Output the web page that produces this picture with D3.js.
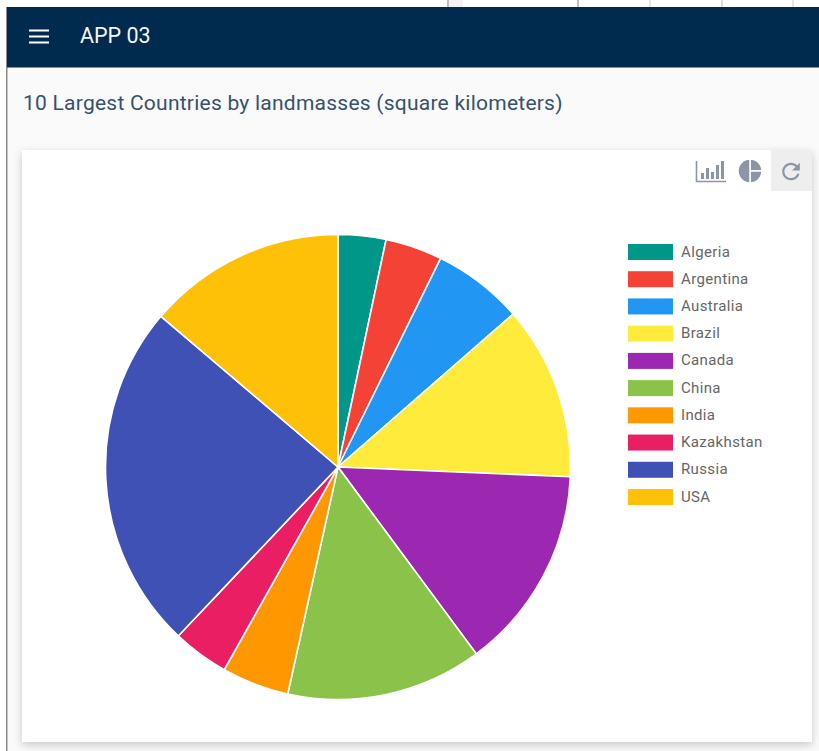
<!DOCTYPE html>
<html>
<head>
<meta charset="utf-8">
<script src="https://cdnjs.cloudflare.com/ajax/libs/d3/7.8.5/d3.min.js"></script>
<style>
  html, body { margin: 0; padding: 0; background: #fff; }
  svg { display: block; }
  text { font-family: Roboto, sans-serif; }
</style>
</head>
<body>
<svg id="app" width="819" height="751"></svg>
<script>
// Land area per country, square kilometres
const countries = ["Algeria", "Argentina", "Australia", "Brazil", "Canada", "China", "India", "Kazakhstan", "Russia", "USA"];
const landArea = [2390000, 2850000, 4530000, 8710000, 10220000, 9800000, 3360000, 2820000, 17400000, 9920000];
const sliceColors = ["#009688", "#f44336", "#2196f3", "#ffeb3b", "#9c27b0", "#8bc34a", "#ff9800", "#e91e63", "#3f51b5", "#ffc107"];
const appTitle = "APP 03";
const pageTitle = "10 Largest Countries by landmasses (square kilometers)";
const tabDividers = [[448, "#a8a8a8"], [578, "#a8a8a8"], [650, "#dddddd"], [722, "#d0d0d0"], [793, "#dddddd"]];

const svg = d3.select("#app");
const defs = svg.append("defs");
const shadow = defs.append("filter").attr("id", "cardShadow")
  .attr("x", "-5%").attr("y", "-5%").attr("width", "110%").attr("height", "110%");
shadow.append("feDropShadow").attr("dx", 0).attr("dy", 3).attr("stdDeviation", 4)
  .attr("flood-color", "#000").attr("flood-opacity", 0.2);

// Page frame, toolbar and heading
svg.append("rect").attr("x", 7).attr("y", 67).attr("width", 812).attr("height", 684).attr("fill", "#fafafa");
svg.append("rect").attr("x", 6).attr("y", 7).attr("width", 1.5).attr("height", 744).attr("fill", "#8a8a8a");
svg.append("rect").attr("x", 449).attr("y", 0).attr("width", 14).attr("height", 7).attr("fill", "#f3f3f3");
svg.selectAll("line.tab").data(tabDividers).join("line").attr("class", "tab")
  .attr("x1", d => d[0]).attr("x2", d => d[0]).attr("y1", 0).attr("y2", 7)
  .attr("stroke", d => d[1]).attr("stroke-width", 1.5);
svg.append("rect").attr("x", 7).attr("y", 7).attr("width", 812).attr("height", 60.5).attr("fill", "#002a4e");
svg.selectAll("rect.burger").data([0, 1, 2]).join("rect").attr("class", "burger")
  .attr("x", 29).attr("y", i => 29.5 + i * 6).attr("width", 20).attr("height", 2).attr("fill", "#fff");
svg.append("text").attr("x", 80).attr("y", 43).attr("font-size", 21.5).attr("fill", "#f4f6f8").text(appTitle);
svg.append("text").attr("x", 23).attr("y", 110).attr("font-size", 21).attr("letter-spacing", 0.24)
  .attr("fill", "#37516d").text(pageTitle);

// Card
svg.append("rect").attr("x", 22).attr("y", 150).attr("width", 790).attr("height", 592)
  .attr("fill", "#fff").attr("filter", "url(#cardShadow)");

// Card toolbar: bar chart, pie chart and refresh buttons
const toolbar = svg.append("g");
const iconColor = "#8a95a5";
toolbar.append("rect").attr("x", 771).attr("y", 150).attr("width", 41).attr("height", 41).attr("fill", "#eeeeee");
toolbar.append("path").attr("d", "M696.5 161V181.5H726").attr("fill", "none").attr("stroke", iconColor).attr("stroke-width", 1.6);
toolbar.selectAll("rect.bar").data([[701, 6], [706, 11], [711, 7], [716, 14], [721, 18]]).join("rect").attr("class", "bar")
  .attr("x", d => d[0]).attr("y", d => 179 - d[1]).attr("width", 3).attr("height", d => d[1]).attr("fill", iconColor);
const iconArc = d3.arc().innerRadius(0).outerRadius(12);
toolbar.selectAll("path.pieIcon").data([[0, Math.PI / 2], [Math.PI / 2, Math.PI], [Math.PI, 2 * Math.PI]]).join("path")
  .attr("class", "pieIcon").attr("transform", "translate(750,171)")
  .attr("d", d => iconArc({ startAngle: d[0], endAngle: d[1] }))
  .attr("fill", iconColor).attr("stroke", "#fff").attr("stroke-width", 1.5);
toolbar.append("path")
  .attr("d", "M17.65 6.35C16.2 4.9 14.21 4 12 4c-4.42 0-7.99 3.58-7.99 8s3.57 8 7.99 8c3.73 0 6.84-2.55 7.73-6h-2.08c-.82 2.33-3.04 4-5.65 4-3.31 0-6-2.69-6-6s2.69-6 6-6c1.66 0 3.14.69 4.22 1.78L13 11h7V4l-2.35 2.35z")
  .attr("transform", "translate(777.8,158.3) scale(1.1)").attr("fill", iconColor);

// Pie
const radius = 232.5;
const pie = d3.pie().value(d => d.area).sort(null);
const arc = d3.arc().innerRadius(0).outerRadius(radius);
const rows = countries.map((name, i) => ({ name, area: landArea[i] }));
const color = d3.scaleOrdinal().domain(countries).range(sliceColors);

svg.append("g").attr("transform", "translate(338,467)")
  .selectAll("path").data(pie(rows)).join("path")
  .attr("d", arc).attr("fill", d => color(d.data.name))
  .attr("stroke", "#fff").attr("stroke-width", 1.6);

// Legend
const legendY = d3.scalePoint().domain(countries).range([252, 497]);
const legend = svg.append("g").selectAll("g").data(countries).join("g")
  .attr("transform", d => `translate(628,${legendY(d)})`);
legend.append("rect").attr("x", 0).attr("y", -8).attr("width", 45).attr("height", 16).attr("fill", d => color(d));
legend.append("text").attr("x", 53).attr("y", 4.5).attr("font-size", 15).attr("letter-spacing", 0.35)
  .attr("fill", "#666").text(d => d);
</script>
</body>
</html>
